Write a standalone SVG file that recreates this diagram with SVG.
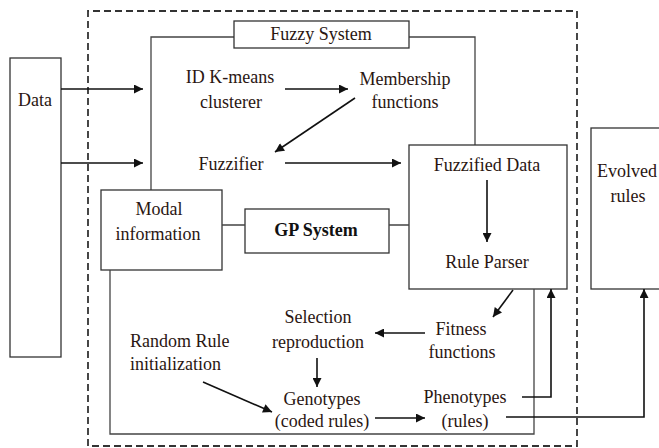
<svg xmlns="http://www.w3.org/2000/svg" width="659" height="448" viewBox="0 0 659 448">
<defs>
<style>
text{font-family:"Liberation Serif","Times New Roman",serif;font-size:18px;fill:#2a1612;text-anchor:middle}
.b{font-weight:bold;fill:#111}
.box{fill:#fff;stroke:#333;stroke-width:1.3}
.ln{fill:none;stroke:#444;stroke-width:1.3}
.ar{fill:none;stroke:#111;stroke-width:1.6}
.dash{fill:none;stroke:#333;stroke-width:1.8;stroke-dasharray:7 4}
</style>
<marker id="ah" viewBox="0 0 10 10" refX="10" refY="5" markerWidth="11" markerHeight="9" markerUnits="userSpaceOnUse" orient="auto">
<path d="M0,0 L10,5 L0,10 z" fill="#111"/>
</marker>
</defs>
<rect width="659" height="448" fill="#fff"/>
<path class="dash" d="M88 446 V11 H577 V446 H88"/>
<g id="data"><rect class="box" x="10" y="58" width="51" height="299"/><text x="35" y="106">Data</text></g>
<g id="fuzzy-system">
<path class="ln" d="M234 37 H151 V190 M409 37 H475 V145"/>
<rect class="box" x="234" y="21" width="175" height="27"/><text x="321" y="40">Fuzzy System</text>
</g>
<g id="kmeans"><text x="230" y="83">ID K-means</text><text x="231" y="108">clusterer</text></g>
<g id="membership"><text x="405" y="85">Membership</text><text x="405" y="108">functions</text></g>
<g id="fuzzifier"><text x="231" y="170">Fuzzifier</text></g>
<g id="fuzzified-data"><rect class="box" x="409" y="145" width="158" height="144"/><text x="487" y="171">Fuzzified Data</text><text x="487" y="268">Rule Parser</text></g>
<g id="modal"><rect class="box" x="101" y="190" width="121" height="80"/><text x="159" y="215">Modal</text><text x="158" y="240">information</text></g>
<g id="gp-system">
<path class="ln" d="M110 270 V434 H534 V289"/>
<rect class="box" x="245" y="209" width="144" height="44"/><text class="b" x="316" y="236">GP System</text>
</g>
<g id="selection"><text x="318" y="323">Selection</text><text x="318" y="348">reproduction</text></g>
<g id="fitness"><text x="461" y="335">Fitness</text><text x="462" y="358">functions</text></g>
<g id="random"><text x="130" y="347" style="text-anchor:start">Random Rule</text><text x="130" y="370" style="text-anchor:start">initialization</text></g>
<g id="genotypes"><text x="322" y="405">Genotypes</text><text x="322" y="427">(coded rules)</text></g>
<g id="phenotypes"><text x="465" y="403">Phenotypes</text><text x="465" y="427">(rules)</text></g>
<g id="evolved"><rect class="box" x="591" y="128" width="80" height="161"/><text x="627" y="177">Evolved</text><text x="628" y="202">rules</text></g>
<g id="connectors">
<path class="ar" marker-end="url(#ah)" d="M61 89 H143"/>
<path class="ar" marker-end="url(#ah)" d="M61 163 H143"/>
<path class="ar" marker-end="url(#ah)" d="M285 89 H348"/>
<path class="ar" marker-end="url(#ah)" d="M355 98 L275 152"/>
<path class="ar" marker-end="url(#ah)" d="M285 163 H401"/>
<path class="ar" marker-end="url(#ah)" d="M487 180 V242"/>
<path class="ln" d="M222 225 H245 M389 225 H409"/>
<path class="ar" marker-end="url(#ah)" d="M513 290 L493 317"/>
<path class="ar" marker-end="url(#ah)" d="M425 333 H375"/>
<path class="ar" marker-end="url(#ah)" d="M317 358 V387"/>
<path class="ar" marker-end="url(#ah)" d="M203 382 L272 412"/>
<path class="ar" marker-end="url(#ah)" d="M375 418 H425"/>
<path class="ar" marker-end="url(#ah)" d="M522 397 H551 V289"/>
<path class="ar" marker-end="url(#ah)" d="M506 417 H644 V289"/>
</g>
</svg>
